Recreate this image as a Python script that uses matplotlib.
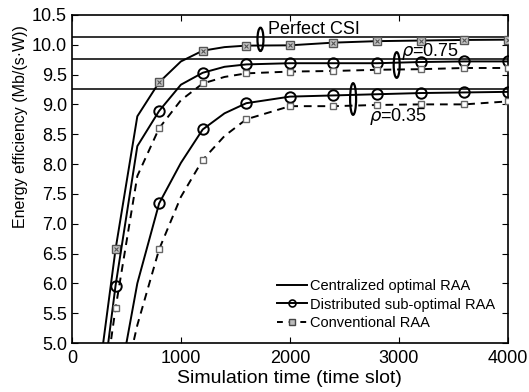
import matplotlib
matplotlib.use("Agg")
import matplotlib.pyplot as plt
from matplotlib.patches import Ellipse

plt.rcParams['font.family'] = ['Liberation Sans', 'DejaVu Sans']

# simulation time (time slot)
slots = [200, 400, 600, 800, 1000, 1200, 1400, 1600, 2000, 2400, 2800, 3200, 3600, 4000]
marker_idx = [1, 3, 5, 7, 8, 9, 10, 11, 12, 13]

# energy efficiency (Mb/(s*W))
perfect_csi = [3.8, 6.57, 8.8, 9.37, 9.72, 9.90, 9.96, 9.985, 9.99, 10.035, 10.06, 10.07, 10.08, 10.085]
dist_075 = [3.1, 5.96, 8.30, 8.89, 9.33, 9.53, 9.63, 9.67, 9.69, 9.69, 9.69, 9.71, 9.72, 9.72]
conv_075 = [3.0, 5.58, 7.80, 8.60, 9.07, 9.35, 9.46, 9.52, 9.55, 9.56, 9.58, 9.59, 9.61, 9.61]
dist_035 = [2.5, 4.0, 6.0, 7.34, 8.02, 8.58, 8.85, 9.02, 9.13, 9.15, 9.17, 9.19, 9.20, 9.21]
conv_035 = [2.0, 3.7, 5.3, 6.57, 7.45, 8.07, 8.47, 8.75, 8.97, 8.97, 8.99, 9.00, 9.00, 9.05]

# centralized optimal RAA (perfect CSI, rho=0.75, rho=0.35)
optimal = [10.13, 9.76, 9.26]

# curve labels: text, text position, ellipse centre, ellipse height
labels = ["Perfect CSI", r"$\rho$=0.75", r"$\rho$=0.35"]
label_pos = [(2220, 10.26), (3290, 9.88), (2995, 8.79)]
ell_pos = [(1730, 10.09), (2980, 9.66), (2580, 9.09)]
ell_h = [0.39, 0.43, 0.53]

fig = plt.figure(figsize=(5.29, 3.92), dpi=100)
ax = fig.add_axes([0.136, 0.125, 0.824, 0.837])

for v in optimal:
    ax.axhline(v, color='#333333', lw=1.4, zorder=2)

sq = dict(marker='s', ms=5, mfc='white', mec='#666666', mew=1.0)
ci = dict(marker='o', ms=7.5, mfc='none', mec='black', mew=1.4)

ax.plot(slots, perfect_csi, color='black', lw=1.4, markevery=marker_idx,
        marker='s', ms=5.5, mfc='#c8c8c8', mec='#555555', mew=1.0, zorder=3)
ax.plot(slots, perfect_csi, ls='none', marker='x', ms=3.5, mec='#555555',
        mew=0.8, markevery=marker_idx, zorder=4)
ax.plot(slots, dist_075, color='black', lw=1.4, markevery=marker_idx, zorder=3, **ci)
ax.plot(slots, conv_075, color='black', lw=1.4, ls=(0, (4, 3)), markevery=marker_idx, zorder=3, **sq)
ax.plot(slots, dist_035, color='black', lw=1.4, markevery=marker_idx, zorder=3, **ci)
ax.plot(slots, conv_035, color='black', lw=1.4, ls=(0, (4, 3)), markevery=marker_idx, zorder=3, **sq)

for txt, (tx, ty), (ex, ey), h in zip(labels, label_pos, ell_pos, ell_h):
    ax.add_patch(Ellipse((ex, ey), 55, h, fill=False, ec='black', lw=1.6, zorder=5))
    ax.text(tx, ty, txt, fontsize=13, ha='center', va='center', zorder=6)

# legend proxies
h1, = ax.plot([], [], color='black', lw=1.4)
h2, = ax.plot([], [], color='black', lw=1.4, marker='o', ms=5, mfc='none', mec='black', mew=1.2)
h3, = ax.plot([], [], color='black', lw=1.4, ls=(0, (3, 3)), marker='s', ms=4,
              mfc='#bbbbbb', mec='#444444', mew=1.0)
ax.legend([h1, h2, h3], ["Centralized optimal RAA", "Distributed sub-optimal RAA", "Conventional RAA"],
          loc='lower right', frameon=False, fontsize=10.5, handlelength=2.1,
          handletextpad=0.15, labelspacing=0.3, borderaxespad=0.5)

ax.set_xlim(0, 4000)
ax.set_ylim(5.0, 10.5)
ax.set_xticks([0, 1000, 2000, 3000, 4000])
ax.set_yticks([5.0 + 0.5 * i for i in range(12)])
ax.set_yticklabels(["%.1f" % (5.0 + 0.5 * i) for i in range(12)])
ax.tick_params(direction='in', top=True, right=True, labelsize=13, length=4)
ax.tick_params(axis='x', pad=5)
for s in ax.spines.values():
    s.set_linewidth(1.2)
ax.set_xlabel("Simulation time (time slot)", fontsize=14, labelpad=2)
ax.set_ylabel("Energy efficiency (Mb/(s·W))", fontsize=11.5)
ax.yaxis.set_label_coords(-0.10, 0.66)

fig.savefig("out.png", dpi=100)
